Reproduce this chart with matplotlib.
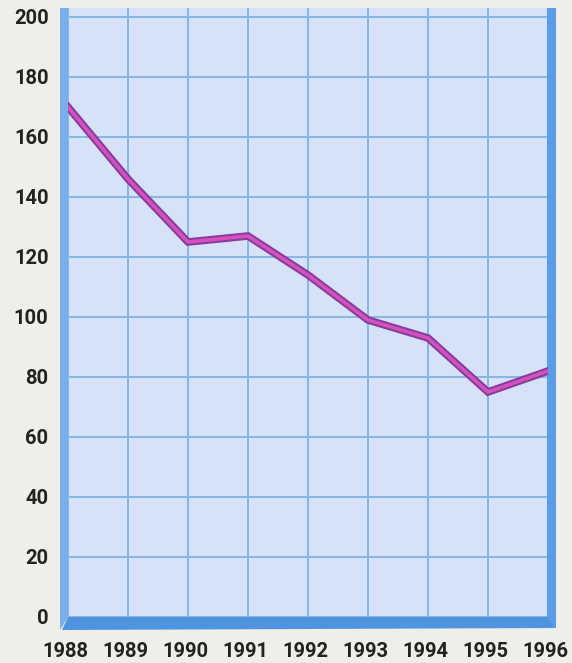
import matplotlib.pyplot as plt
import matplotlib.transforms as mtransforms
from matplotlib.patches import Polygon

years = [1988, 1989, 1990, 1991, 1992, 1993, 1994, 1995, 1996]
values = [170, 146, 125, 127, 114, 99, 93, 75, 82]
y_ticks = [0, 20, 40, 60, 80, 100, 120, 140, 160, 180, 200]

plt.rcParams['font.family'] = ['Roboto', 'DejaVu Sans']

fig = plt.figure(figsize=(5.72, 6.63), dpi=100)
fig.patch.set_facecolor('#efeee8')
ax = fig.add_axes([68 / 572, 1 - 617 / 663, (548 - 68) / 572, (617 - 8) / 663])
ax.set_facecolor('#d5e2f8')

ax.set_xlim(1988, 1996)
ax.set_ylim(0, 203)
ax.set_xticks(years)
ax.set_yticks(y_ticks)
ax.grid(color='#86b6e6', linewidth=1.4)
ax.set_axisbelow(True)
for s in ax.spines.values():
    s.set_visible(False)
ax.tick_params(length=0, labelsize=14.5, colors='#222222')
ax.tick_params(axis='x', pad=18)
ax.tick_params(axis='y', pad=14)
shift = mtransforms.ScaledTranslation(-3 / 100, 0, fig.dpi_scale_trans)
for lbl in ax.get_xticklabels():
    lbl.set_fontweight('bold')
    lbl.set_transform(lbl.get_transform() + shift)
for lbl in ax.get_yticklabels():
    lbl.set_fontweight('bold')

# 3D frame: left wall, floor, right edge (in pixel terms via axes fraction)
W, H = 548 - 68, 617 - 8
wall = Polygon([(0, 0), (0, 1), (-8 / W, 1), (-8 / W, -13 / H)],
               closed=True, transform=ax.transAxes, clip_on=False,
               facecolor='#7aaeea', edgecolor='none')
floor = Polygon([(0, 0), (1, 0), (1 + 8 / W, -11 / H), (-6 / W, -13 / H)],
                closed=True, transform=ax.transAxes, clip_on=False,
                facecolor='#4f94e0', edgecolor='none')
right = Polygon([(1 - 1 / W, 0), (1 - 1 / W, 1), (1 + 8 / W, 1), (1 + 8 / W, -11 / H)],
                closed=True, transform=ax.transAxes, clip_on=False,
                facecolor='#5a9de6', edgecolor='none')
for p in (wall, floor, right):
    ax.add_patch(p)

ax.plot(years, values, color='#8a3c9e', linewidth=5.5, solid_joinstyle='miter', zorder=3)
ax.plot(years, values, color='#d452bc', linewidth=2.5, solid_joinstyle='miter', zorder=4)

fig.savefig('out.png', dpi=100, facecolor=fig.get_facecolor())
